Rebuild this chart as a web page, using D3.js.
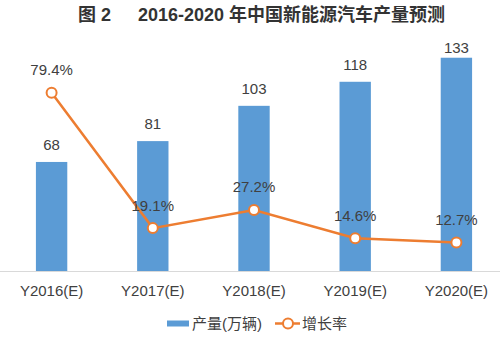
<!DOCTYPE html>
<html><head><meta charset="utf-8">
<script src="https://cdn.jsdelivr.net/npm/d3@7"></script>
<style>body{margin:0;background:#fff}svg{display:block}</style>
</head><body>
<svg id="c" width="500" height="344"></svg>
<script>
const categories = ["Y2016(E)","Y2017(E)","Y2018(E)","Y2019(E)","Y2020(E)"];
const output = [68, 81, 103, 118, 133];
const growth = [79.4, 19.1, 27.2, 14.6, 12.7];
const seriesNames = ["产量(万辆)", "增长率"];
const titleA = "图 2";
const titleB = "2016-2020 年中国新能源汽车产量预测";

(function () {
const svg = d3.select("#c");
const font = "'Liberation Sans','Noto Sans CJK SC',sans-serif";
const blue = "#5B9BD5", orange = "#ED7D31", txt = "#404040";
const plotTop = 46.5, base = 271;

const x = d3.scaleBand().domain(categories).range([1, 507]).paddingInner(0.69).paddingOuter(0.345);
const y = d3.scaleLinear().domain([0, 140]).range([base, plotTop]);
const y2 = d3.scaleLinear().domain([0, 100]).range([base, plotTop]);
const cx = d => x(d) + x.bandwidth() / 2;

// title
svg.append("text").attr("x", 78).attr("y", 21).attr("font-family", font).attr("font-size", 18)
  .attr("font-weight", "bold").attr("fill", "#333").text(titleA);
svg.append("text").attr("x", 138).attr("y", 21).attr("font-family", font).attr("font-size", 18)
  .attr("font-weight", "bold").attr("fill", "#333").text(titleB);

// axis
const xAxis = d3.axisBottom(x).tickSize(0).tickPadding(14);
const ax = svg.append("g").attr("transform", `translate(0,${base})`).call(xAxis);
ax.select(".domain").remove();
ax.selectAll("text").attr("font-family", font).attr("font-size", 15).attr("fill", txt);
svg.append("line").attr("x1", 0).attr("x2", 500).attr("y1", base + 0.5).attr("y2", base + 0.5)
  .attr("stroke", "#d9d9d9").attr("stroke-width", 1);

// bars
svg.selectAll("rect.bar").data(output).join("rect").attr("class", "bar")
  .attr("x", (d, i) => x(categories[i])).attr("width", x.bandwidth())
  .attr("y", d => y(d)).attr("height", d => base - y(d)).attr("fill", blue);
svg.selectAll("text.bl").data(output).join("text").attr("class", "bl")
  .attr("x", (d, i) => cx(categories[i])).attr("y", d => Math.max(y(d) - 12, 53))
  .attr("text-anchor", "middle").attr("font-family", font).attr("font-size", 15).attr("fill", txt)
  .text(d => d);

// line
const line = d3.line().x((d, i) => cx(categories[i])).y(d => y2(d));
svg.append("path").datum(growth).attr("d", line).attr("fill", "none")
  .attr("stroke", orange).attr("stroke-width", 2.5);
svg.selectAll("circle.pt").data(growth).join("circle").attr("class", "pt")
  .attr("cx", (d, i) => cx(categories[i])).attr("cy", d => y2(d)).attr("r", 5)
  .attr("fill", "#fff").attr("stroke", orange).attr("stroke-width", 2);
svg.selectAll("text.ll").data(growth).join("text").attr("class", "ll")
  .attr("x", (d, i) => cx(categories[i])).attr("y", d => y2(d) - 17.5)
  .attr("text-anchor", "middle").attr("font-family", font).attr("font-size", 15).attr("fill", txt)
  .text(d => d.toFixed(1) + "%");

// legend
const lg = svg.append("g");
lg.append("rect").attr("x", 167).attr("y", 320.5).attr("width", 22).attr("height", 6).attr("fill", blue);
lg.append("text").attr("x", 192).attr("y", 329).attr("font-family", font).attr("font-size", 15)
  .attr("fill", txt).text(seriesNames[0]);
lg.append("line").attr("x1", 275).attr("x2", 300).attr("y1", 323.5).attr("y2", 323.5)
  .attr("stroke", orange).attr("stroke-width", 2.5);
lg.append("circle").attr("cx", 288).attr("cy", 323.5).attr("r", 5).attr("fill", "#fff")
  .attr("stroke", orange).attr("stroke-width", 2);
lg.append("text").attr("x", 302).attr("y", 329).attr("font-family", font).attr("font-size", 15)
  .attr("fill", txt).text(seriesNames[1]);
})();
</script>
</body></html>
